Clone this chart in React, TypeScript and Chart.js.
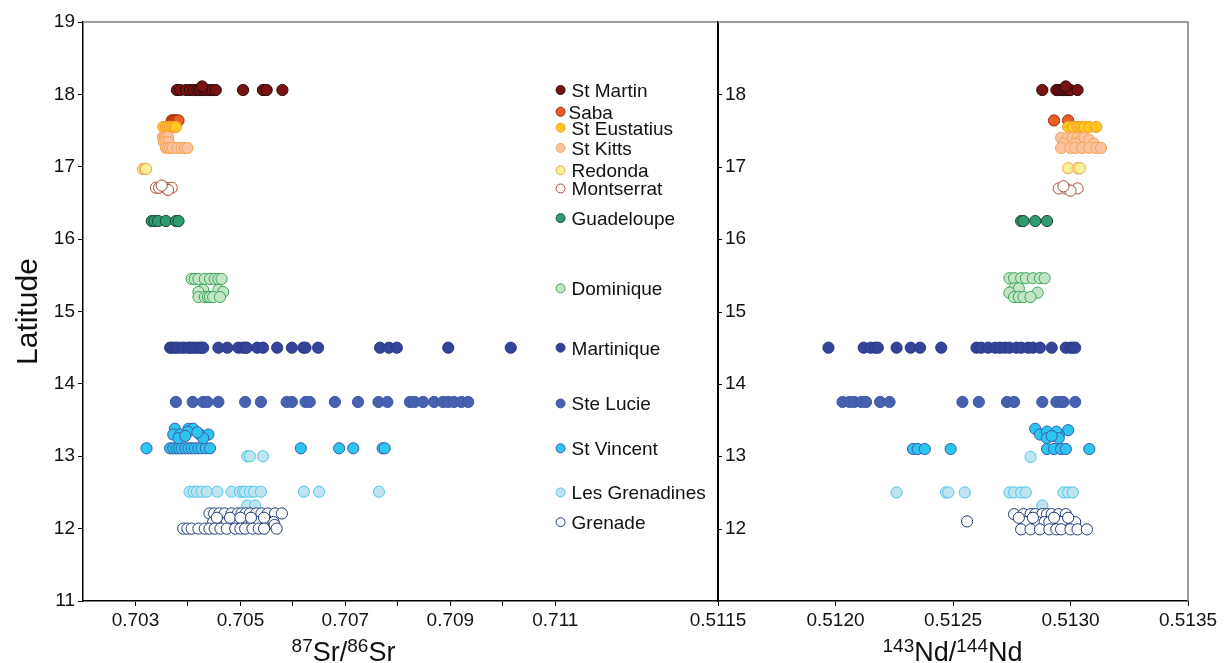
import React, { useEffect, useRef } from 'react';
import { Chart, registerables } from 'chart.js';
Chart.register(...registerables);

type Pt = [number, number];

const islands = ['St Martin', 'Saba', 'St Eustatius', 'St Kitts', 'Redonda', 'Montserrat', 'Guadeloupe', 'Dominique', 'Martinique', 'Ste Lucie', 'St Vincent', 'Les Grenadines', 'Grenade'];
const fillColors = ['#7a1212', '#ea5f24', '#ffc820', '#f9c3a0', '#f6f09a', '#ffffff', '#2f9b70', '#c3e5c5', '#33449a', '#4561b0', '#2ec4f0', '#bfe4ef', '#ffffff'];
const borderColors = ['#2a0a0a', '#9a2a10', '#f59a30', '#f7a450', '#f4a34a', '#a64a30', '#1c4a32', '#3aa65a', '#2b3a86', '#4058a8', '#3a5eae', '#4cc6ee', '#1e3a78'];
const legendLat = [18.06, 17.76, 17.54, 17.26, 16.95, 16.70, 16.29, 15.32, 14.50, 13.73, 13.11, 12.50, 12.09];
const legendSr = 0.7111;

const srTicks = [0.703, 0.704, 0.705, 0.706, 0.707, 0.708, 0.709, 0.710, 0.711];
const srTickLabels = ['0.703', '', '0.705', '', '0.707', '', '0.709', '', '0.711'];
const ndTicks = [0.5115, 0.512, 0.5125, 0.513, 0.5135];
const ndTickLabels = ['0.5115', '0.5120', '0.5125', '0.5130', '0.5135'];
const latTicks = [11, 12, 13, 14, 15, 16, 17, 18, 19];
const latLabelsLeft = ['11', '12', '13', '14', '15', '16', '17', '18', '19'];
const latLabelsRight = ['', '12', '13', '14', '15', '16', '17', '18', ''];

// ---- 87Sr/86Sr ----
const stMartinSr: Pt[] = [[0.70379, 18.06], [0.70385, 18.06], [0.70396, 18.06], [0.70404, 18.06], [0.70411, 18.06], [0.70418, 18.06], [0.70423, 18.06], [0.70430, 18.06], [0.70434, 18.06], [0.70442, 18.06], [0.70447, 18.06], [0.70453, 18.06], [0.70505, 18.06], [0.70543, 18.06], [0.70550, 18.06], [0.70580, 18.06], [0.70427, 18.11]];
const sabaSr: Pt[] = [[0.70369, 17.64], [0.70372, 17.64], [0.70375, 17.64], [0.70378, 17.64], [0.70382, 17.64]];
const stEustatiusSr: Pt[] = [[0.70353, 17.55], [0.70358, 17.55], [0.70362, 17.55], [0.70366, 17.55], [0.70370, 17.55], [0.70374, 17.55], [0.70377, 17.55]];
const stKittsSr: Pt[] = [[0.70352, 17.41], [0.70356, 17.41], [0.70359, 17.41], [0.70362, 17.41], [0.70354, 17.34], [0.70358, 17.34], [0.70363, 17.34], [0.70358, 17.26], [0.70362, 17.26], [0.70366, 17.26], [0.70371, 17.26], [0.70380, 17.26], [0.70388, 17.26], [0.70394, 17.26], [0.70399, 17.26]];
const redondaSr: Pt[] = [[0.70314, 16.97], [0.70318, 16.97], [0.70320, 16.97]];
const montserratSr: Pt[] = [[0.70339, 16.71], [0.70345, 16.71], [0.70358, 16.71], [0.70369, 16.71], [0.70362, 16.68], [0.70350, 16.74]];
const guadeloupeSr: Pt[] = [[0.70331, 16.25], [0.70336, 16.25], [0.70343, 16.25], [0.70358, 16.25], [0.70377, 16.25], [0.70382, 16.25]];
const dominiqueSr: Pt[] = [[0.70407, 15.45], [0.70413, 15.45], [0.70420, 15.45], [0.70432, 15.45], [0.70442, 15.45], [0.70451, 15.45], [0.70458, 15.45], [0.70464, 15.45], [0.70429, 15.30], [0.70458, 15.30], [0.70467, 15.27], [0.70420, 15.27], [0.70420, 15.20], [0.70432, 15.20], [0.70438, 15.20], [0.70442, 15.20], [0.70448, 15.20], [0.70461, 15.20]];
const martiniqueSr: Pt[] = [[0.70366, 14.5], [0.70370, 14.5], [0.70375, 14.5], [0.70380, 14.5], [0.70388, 14.5], [0.70393, 14.5], [0.70401, 14.5], [0.70405, 14.5], [0.70410, 14.5], [0.70416, 14.5], [0.70422, 14.5], [0.70426, 14.5], [0.70429, 14.5], [0.70458, 14.5], [0.70475, 14.5], [0.70496, 14.5], [0.70505, 14.5], [0.70510, 14.5], [0.70512, 14.5], [0.70532, 14.5], [0.70543, 14.5], [0.70570, 14.5], [0.70598, 14.5], [0.70620, 14.5], [0.70624, 14.5], [0.70648, 14.5], [0.70766, 14.5], [0.70783, 14.5], [0.70798, 14.5], [0.70896, 14.5], [0.71015, 14.5]];
const steLucieSr: Pt[] = [[0.70377, 13.75], [0.70409, 13.75], [0.70429, 13.75], [0.70437, 13.75], [0.70458, 13.75], [0.70509, 13.75], [0.70539, 13.75], [0.70588, 13.75], [0.70598, 13.75], [0.70624, 13.75], [0.70632, 13.75], [0.70680, 13.75], [0.70724, 13.75], [0.70763, 13.75], [0.70780, 13.75], [0.70823, 13.75], [0.70832, 13.75], [0.70848, 13.75], [0.70869, 13.75], [0.70886, 13.75], [0.70896, 13.75], [0.70907, 13.75], [0.70921, 13.75], [0.70934, 13.75]];
const stVincentSr: Pt[] = [[0.70321, 13.11], [0.70366, 13.11], [0.70372, 13.11], [0.70378, 13.11], [0.70383, 13.11], [0.70388, 13.11], [0.70395, 13.11], [0.70401, 13.11], [0.70407, 13.11], [0.70413, 13.11], [0.70420, 13.11], [0.70426, 13.11], [0.70434, 13.11], [0.70442, 13.11], [0.70615, 13.11], [0.70688, 13.11], [0.70715, 13.11], [0.70771, 13.11], [0.70775, 13.11], [0.70375, 13.38], [0.70401, 13.38], [0.70410, 13.38], [0.70372, 13.30], [0.70385, 13.30], [0.70400, 13.34], [0.70423, 13.30], [0.70439, 13.30], [0.70382, 13.25], [0.70429, 13.25], [0.70395, 13.28], [0.70418, 13.33]];
const lesGrenadinesSr: Pt[] = [[0.70403, 12.51], [0.70411, 12.51], [0.70417, 12.51], [0.70426, 12.51], [0.70436, 12.51], [0.70456, 12.51], [0.70483, 12.51], [0.70499, 12.51], [0.70505, 12.51], [0.70509, 12.51], [0.70518, 12.51], [0.70526, 12.51], [0.70539, 12.51], [0.70621, 12.51], [0.70650, 12.51], [0.70764, 12.51], [0.70513, 13.00], [0.70518, 13.00], [0.70543, 13.00], [0.70513, 12.32], [0.70528, 12.32]];
const grenadeSr: Pt[] = [[0.70441, 12.21], [0.70450, 12.21], [0.70460, 12.21], [0.70470, 12.21], [0.70483, 12.21], [0.70495, 12.21], [0.70502, 12.21], [0.70510, 12.21], [0.70518, 12.21], [0.70530, 12.21], [0.70540, 12.21], [0.70552, 12.21], [0.70566, 12.21], [0.70579, 12.21], [0.70448, 12.09], [0.70462, 12.09], [0.70474, 12.09], [0.70493, 12.09], [0.70505, 12.09], [0.70512, 12.09], [0.70522, 12.09], [0.70534, 12.09], [0.70550, 12.09], [0.70563, 12.09], [0.70565, 12.05], [0.70455, 12.15], [0.70480, 12.15], [0.70500, 12.15], [0.70520, 12.15], [0.70545, 12.15], [0.70391, 12.00], [0.70399, 12.00], [0.70407, 12.00], [0.70420, 12.00], [0.70432, 12.00], [0.70441, 12.00], [0.70451, 12.00], [0.70462, 12.00], [0.70474, 12.00], [0.70490, 12.00], [0.70500, 12.00], [0.70509, 12.00], [0.70523, 12.00], [0.70535, 12.00], [0.70545, 12.00], [0.70569, 12.00]];

// ---- 143Nd/144Nd ----
const stMartinNd: Pt[] = [[0.51288, 18.06], [0.51294, 18.06], [0.51295, 18.06], [0.51296, 18.06], [0.51297, 18.06], [0.51298, 18.06], [0.51299, 18.06], [0.51300, 18.06], [0.51303, 18.06], [0.51298, 18.11]];
const sabaNd: Pt[] = [[0.51293, 17.64], [0.51299, 17.64]];
const stEustatiusNd: Pt[] = [[0.51299, 17.55], [0.51301, 17.55], [0.51303, 17.55], [0.51304, 17.55], [0.51305, 17.55], [0.51306, 17.55], [0.51308, 17.55], [0.51311, 17.55]];
const stKittsNd: Pt[] = [[0.51296, 17.40], [0.51299, 17.40], [0.51301, 17.40], [0.51303, 17.40], [0.51305, 17.40], [0.51306, 17.40], [0.51308, 17.37], [0.51297, 17.32], [0.51302, 17.32], [0.51310, 17.32], [0.51296, 17.26], [0.51300, 17.26], [0.51302, 17.26], [0.51305, 17.26], [0.51308, 17.26], [0.51311, 17.26], [0.51313, 17.26]];
const redondaNd: Pt[] = [[0.51299, 16.98], [0.51303, 16.98], [0.51304, 16.98]];
const montserratNd: Pt[] = [[0.51295, 16.70], [0.51298, 16.70], [0.51303, 16.70], [0.51300, 16.67], [0.51297, 16.73]];
const guadeloupeNd: Pt[] = [[0.51279, 16.25], [0.51280, 16.25], [0.51285, 16.25], [0.51290, 16.25]];
const dominiqueNd: Pt[] = [[0.51274, 15.46], [0.51276, 15.46], [0.51279, 15.46], [0.51281, 15.46], [0.51284, 15.46], [0.51287, 15.46], [0.51289, 15.46], [0.51276, 15.32], [0.51278, 15.32], [0.51286, 15.26], [0.51274, 15.26], [0.51276, 15.20], [0.51278, 15.20], [0.51280, 15.20], [0.51283, 15.20]];
const martiniqueNd: Pt[] = [[0.51197, 14.5], [0.51212, 14.5], [0.51215, 14.5], [0.51217, 14.5], [0.51218, 14.5], [0.51226, 14.5], [0.51232, 14.5], [0.51236, 14.5], [0.51245, 14.5], [0.51260, 14.5], [0.51262, 14.5], [0.51265, 14.5], [0.51268, 14.5], [0.51270, 14.5], [0.51272, 14.5], [0.51274, 14.5], [0.51277, 14.5], [0.51279, 14.5], [0.51282, 14.5], [0.51284, 14.5], [0.51287, 14.5], [0.51292, 14.5], [0.51298, 14.5], [0.51300, 14.5], [0.51301, 14.5], [0.51302, 14.5]];
const steLucieNd: Pt[] = [[0.51203, 13.75], [0.51206, 13.75], [0.51208, 13.75], [0.51211, 13.75], [0.51213, 13.75], [0.51219, 13.75], [0.51223, 13.75], [0.51254, 13.75], [0.51261, 13.75], [0.51273, 13.75], [0.51276, 13.75], [0.51288, 13.75], [0.51294, 13.75], [0.51296, 13.75], [0.51297, 13.75], [0.51302, 13.75]];
const stVincentNd: Pt[] = [[0.51233, 13.10], [0.51235, 13.10], [0.51238, 13.10], [0.51249, 13.10], [0.51290, 13.10], [0.51293, 13.10], [0.51296, 13.10], [0.51298, 13.10], [0.51308, 13.10], [0.51285, 13.38], [0.51299, 13.36], [0.51287, 13.30], [0.51291, 13.30], [0.51295, 13.30], [0.51290, 13.34], [0.51294, 13.34], [0.51290, 13.25], [0.51295, 13.25], [0.51292, 13.28]];
const lesGrenadinesNd: Pt[] = [[0.51226, 12.50], [0.51247, 12.50], [0.51248, 12.50], [0.51255, 12.50], [0.51274, 12.50], [0.51276, 12.50], [0.51279, 12.50], [0.51281, 12.50], [0.51297, 12.50], [0.51299, 12.50], [0.51301, 12.50], [0.51283, 12.99], [0.51288, 12.32]];
const grenadeNd: Pt[] = [[0.51276, 12.20], [0.51280, 12.20], [0.51283, 12.20], [0.51285, 12.20], [0.51288, 12.20], [0.51290, 12.20], [0.51292, 12.20], [0.51295, 12.20], [0.51298, 12.20], [0.51256, 12.10], [0.51281, 12.09], [0.51286, 12.09], [0.51289, 12.09], [0.51291, 12.09], [0.51296, 12.09], [0.51302, 12.09], [0.51278, 12.15], [0.51284, 12.15], [0.51293, 12.15], [0.51299, 12.15], [0.51279, 11.99], [0.51283, 11.99], [0.51287, 11.99], [0.51291, 11.99], [0.51294, 11.99], [0.51296, 11.99], [0.51300, 11.99], [0.51303, 11.99], [0.51307, 11.99]];

const srSeries = [stMartinSr, sabaSr, stEustatiusSr, stKittsSr, redondaSr, montserratSr, guadeloupeSr, dominiqueSr, martiniqueSr, steLucieSr, stVincentSr, lesGrenadinesSr, grenadeSr];
const ndSeries = [stMartinNd, sabaNd, stEustatiusNd, stKittsNd, redondaNd, montserratNd, guadeloupeNd, dominiqueNd, martiniqueNd, steLucieNd, stVincentNd, lesGrenadinesNd, grenadeNd];

const FONT = '"Liberation Sans", Arial, Helvetica, sans-serif';
const TEXT = '#111111';

function makeDatasets(series: Pt[][]) {
  return series.map((pts, i) => ({
    label: islands[i],
    data: pts.map(([x, y]) => ({ x, y })),
    backgroundColor: fillColors[i],
    borderColor: borderColors[i],
    borderWidth: 1,
    pointRadius: 5.6,
    pointHoverRadius: 5.6,
    order: series.length - i,
  }));
}

function drawRichTitle(ctx: CanvasRenderingContext2D, parts: { t: string; sup?: boolean }[], cx: number) {
  const mainSize = 27;
  const supSize = 19;
  const mainBase = 661;
  const supBase = 652;
  let total = 0;
  const widths = parts.map((p) => {
    ctx.font = `${p.sup ? supSize : mainSize}px ${FONT}`;
    const w = ctx.measureText(p.t).width;
    total += w;
    return w;
  });
  let x = cx - total / 2;
  ctx.fillStyle = TEXT;
  ctx.textAlign = 'left';
  ctx.textBaseline = 'alphabetic';
  parts.forEach((p, i) => {
    ctx.font = `${p.sup ? supSize : mainSize}px ${FONT}`;
    ctx.fillText(p.t, x, p.sup ? supBase : mainBase);
    x += widths[i];
  });
}

function yScale(afterFitWidth: number, labels: string[], mirror: boolean) {
  return {
    type: 'linear' as const,
    min: 11,
    max: 19,
    afterBuildTicks: (s: any) => { s.ticks = latTicks.map((v) => ({ value: v })); },
    afterFit: (s: any) => { s.width = afterFitWidth; },
    ticks: {
      mirror,
      padding: mirror ? 7 : 3,
      font: { family: FONT, size: 19 },
      color: TEXT,
      callback: (_v: any, idx: number) => labels[idx],
    },
    grid: { drawOnChartArea: false, drawTicks: !mirror, tickLength: 5, color: '#000', lineWidth: 1 },
    border: { display: true, color: '#000', width: 1.5 },
  };
}

function xScale(min: number, max: number, ticks: number[], labels: string[]) {
  return {
    type: 'linear' as const,
    min,
    max,
    afterBuildTicks: (s: any) => { s.ticks = ticks.map((v) => ({ value: v })); },
    afterFit: (s: any) => { s.height = 62; },
    ticks: {
      padding: 3,
      autoSkip: false,
      maxRotation: 0,
      font: { family: FONT, size: 19 },
      color: TEXT,
      callback: (_v: any, idx: number) => labels[idx],
    },
    grid: { drawOnChartArea: false, drawTicks: true, tickLength: 5, color: '#000', lineWidth: 1 },
    border: { display: true, color: '#000', width: 1.5 },
  };
}

const leftPlugin = {
  id: 'leftDecor',
  afterDraw(chart: any) {
    const { ctx, chartArea: a, scales } = chart;
    ctx.save();
    ctx.strokeStyle = '#7f7f7f';
    ctx.lineWidth = 1.5;
    ctx.beginPath();
    ctx.moveTo(a.left, a.top);
    ctx.lineTo(a.right, a.top);
    ctx.stroke();
    ctx.strokeStyle = '#000';
    ctx.lineWidth = 2;
    ctx.beginPath();
    ctx.moveTo(a.right, a.top);
    ctx.lineTo(a.right, a.bottom);
    ctx.stroke();
    // legend
    const lx = scales.x.getPixelForValue(legendSr);
    islands.forEach((name, i) => {
      const ly = scales.y.getPixelForValue(legendLat[i]);
      ctx.beginPath();
      ctx.arc(lx, ly, 4.5, 0, Math.PI * 2);
      ctx.fillStyle = fillColors[i];
      ctx.fill();
      ctx.strokeStyle = borderColors[i];
      ctx.lineWidth = 1;
      ctx.stroke();
      ctx.fillStyle = TEXT;
      ctx.font = `19px ${FONT}`;
      ctx.textAlign = 'left';
      ctx.textBaseline = 'alphabetic';
      ctx.fillText(name, lx + (name === 'Saba' ? 8 : 11), ly + 7);
    });
    // Latitude title
    ctx.save();
    ctx.translate(37, (a.top + a.bottom) / 2);
    ctx.rotate(-Math.PI / 2);
    ctx.font = `30px ${FONT}`;
    ctx.fillStyle = TEXT;
    ctx.textAlign = 'center';
    ctx.textBaseline = 'alphabetic';
    ctx.fillText('Latitude', 0, 0);
    ctx.restore();
    drawRichTitle(ctx, [{ t: '87', sup: true }, { t: 'Sr' }, { t: '/' }, { t: '86', sup: true }, { t: 'Sr' }], 343.5);
    ctx.restore();
  },
};

const rightPlugin = {
  id: 'rightDecor',
  afterDraw(chart: any) {
    const { ctx, chartArea: a, scales } = chart;
    ctx.save();
    ctx.strokeStyle = '#7f7f7f';
    ctx.lineWidth = 1.5;
    ctx.beginPath();
    ctx.moveTo(a.left, a.top);
    ctx.lineTo(a.right, a.top);
    ctx.lineTo(a.right, a.bottom);
    ctx.stroke();
    ctx.strokeStyle = '#000';
    ctx.lineWidth = 1;
    latTicks.forEach((v, i) => {
      if (!latLabelsRight[i]) return;
      const y = Math.round(scales.y.getPixelForValue(v)) + 0.5;
      ctx.beginPath();
      ctx.moveTo(a.left, y);
      ctx.lineTo(a.left + 4, y);
      ctx.stroke();
    });
    drawRichTitle(ctx, [{ t: '143', sup: true }, { t: 'Nd' }, { t: '/' }, { t: '144', sup: true }, { t: 'Nd' }], 272.5);
    ctx.restore();
  },
};

const LEFT_W = 730;
const RIGHT_X = 680;
const RIGHT_W = 1226 - RIGHT_X;

export default function App() {
  const leftRef = useRef<HTMLCanvasElement>(null);
  const rightRef = useRef<HTMLCanvasElement>(null);

  useEffect(() => {
    const common = {
      animation: false as const,
      responsive: false,
      maintainAspectRatio: false,
      plugins: { legend: { display: false }, tooltip: { enabled: false }, title: { display: false } },
    };
    const left = new Chart(leftRef.current!, {
      type: 'scatter',
      data: { datasets: makeDatasets(srSeries) as any },
      options: {
        ...common,
        layout: { padding: { left: 0, right: LEFT_W - 718, top: 22, bottom: 0 } },
        scales: {
          x: xScale(0.702, 0.7141, srTicks, srTickLabels),
          y: yScale(83, latLabelsLeft, false),
        },
      } as any,
      plugins: [leftPlugin],
    });
    const right = new Chart(rightRef.current!, {
      type: 'scatter',
      data: { datasets: makeDatasets(ndSeries) as any },
      options: {
        ...common,
        layout: { padding: { left: 0, right: RIGHT_W - (1188 - RIGHT_X), top: 22, bottom: 0 } },
        scales: {
          x: xScale(0.5115, 0.5135, ndTicks, ndTickLabels),
          y: yScale(718 - RIGHT_X, latLabelsRight, true),
        },
      } as any,
      plugins: [rightPlugin],
    });
    return () => {
      left.destroy();
      right.destroy();
    };
  }, []);

  return (
    <div style={{ position: 'fixed', left: 0, top: 0, width: 1226, height: 663, background: '#ffffff' }}>
      <canvas ref={leftRef} width={LEFT_W} height={663} style={{ position: 'absolute', left: 0, top: 0 }} />
      <canvas ref={rightRef} width={RIGHT_W} height={663} style={{ position: 'absolute', left: RIGHT_X, top: 0 }} />
    </div>
  );
}
